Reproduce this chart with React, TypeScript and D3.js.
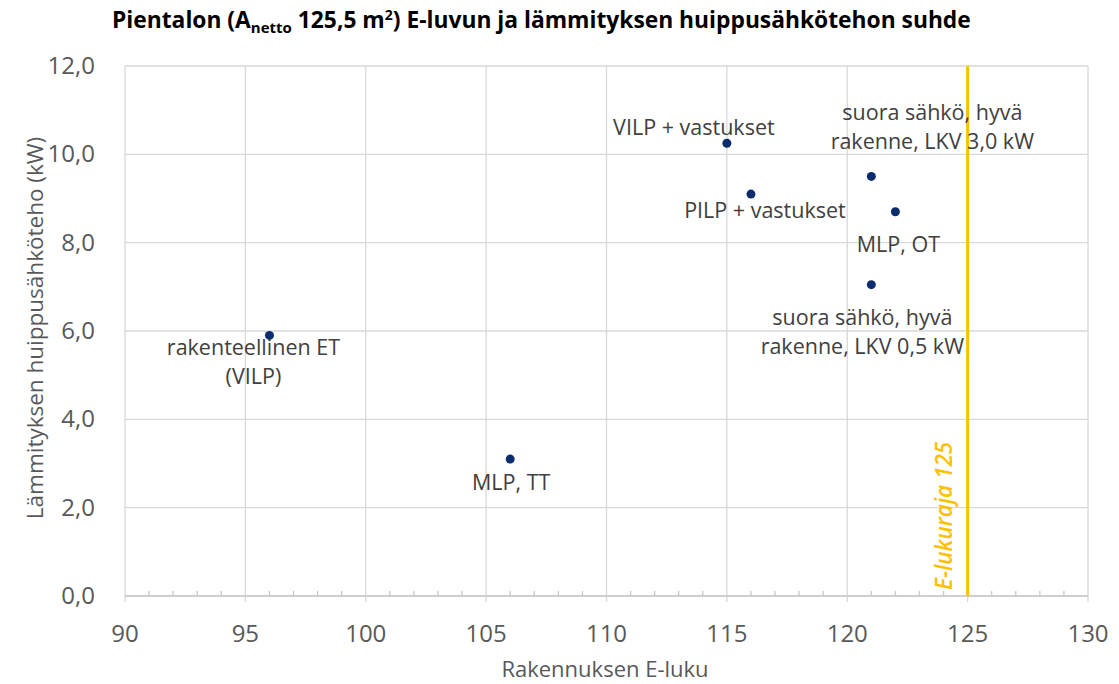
import React from "react";
import * as d3 from "d3";

const eLuku = [96, 106, 115, 116, 121, 122, 121];
const teho = [5.9, 3.1, 10.25, 9.1, 9.5, 8.7, 7.05];
const labels = [
  ["rakenteellinen ET", "(VILP)"],
  ["MLP, TT"],
  ["VILP + vastukset"],
  ["PILP + vastukset"],
  ["suora sähkö, hyvä", "rakenne, LKV 3,0 kW"],
  ["MLP, OT"],
  ["suora sähkö, hyvä", "rakenne, LKV 0,5 kW"],
];
// label offsets relative to point (dx, dy of first baseline)
const labelOffsets: [number, number][] = [
  [-16, 20],
  [1, 31],
  [-33, -8],
  [14, 24],
  [61, -56],
  [3, 40],
  [-9, 40],
];
const xTicks = [90, 95, 100, 105, 110, 115, 120, 125, 130];
const yTicks = [0, 2, 4, 6, 8, 10, 12];
const limitValue = 125;
const limitLabel = "E-lukuraja 125";

const W = 1119;
const H = 684;
const L = 125, R = 1088, T = 66, B = 596;
const FONT = "'Open Sans', Lato, sans-serif";

export default function App() {
  const x = d3.scaleLinear().domain([90, 130]).range([L, R]);
  const y = d3.scaleLinear().domain([0, 12]).range([B, T]);
  const minor = d3.range(90, 131, 1).filter((v) => v % 5 !== 0);
  const fmt = (v: number) => v.toFixed(1).replace(".", ",");
  return (
    <svg width={W} height={H} style={{ position: "absolute", left: 0, top: 0, background: "#fff" }} fontFamily={FONT}>
      <rect x={0} y={0} width={W} height={H} fill="#fff" />
      {/* title */}
      <text x={112} y={28} fontSize={22.8} fontWeight="bold" fill="#000">
        Pientalon (A
        <tspan fontSize={15} dy={5}>netto</tspan>
        <tspan dy={-5}> 125,5 m</tspan>
        <tspan fontSize={14} dy={-8}>2</tspan>
        <tspan dy={8}>) E-luvun ja lämmityksen huippusähkötehon suhde</tspan>
      </text>
      {/* gridlines */}
      {yTicks.map((t) => (
        <line key={"gy" + t} x1={L} x2={R} y1={y(t)} y2={y(t)} stroke="#d9d9d9" strokeWidth={1.3} />
      ))}
      {xTicks.map((t) => (
        <line key={"gx" + t} x1={x(t)} x2={x(t)} y1={T} y2={B + 6} stroke="#d9d9d9" strokeWidth={1.3} />
      ))}
      {minor.map((t) => (
        <line key={"mx" + t} x1={x(t)} x2={x(t)} y1={B - 5} y2={B} stroke="#c8c8c8" strokeWidth={1.3} />
      ))}
      <line x1={L} x2={R} y1={B} y2={B} stroke="#c8c8c8" strokeWidth={1.3} />
      {/* tick labels */}
      {yTicks.map((t) => (
        <text key={"ty" + t} x={95} y={y(t) + 8} fontSize={24} fill="#595959" textAnchor="end">
          {fmt(t)}
        </text>
      ))}
      {xTicks.map((t) => (
        <text key={"tx" + t} x={x(t)} y={642} fontSize={24} fill="#595959" textAnchor="middle">
          {t}
        </text>
      ))}
      {/* axis titles */}
      <text x={605} y={677} fontSize={22} fill="#595959" textAnchor="middle">
        Rakennuksen E-luku
      </text>
      <text transform={`translate(43,328) rotate(-90)`} fontSize={22.5} fill="#595959" textAnchor="middle">
        Lämmityksen huippusähköteho (kW)
      </text>
      {/* limit line */}
      <line x1={x(limitValue)} x2={x(limitValue)} y1={T} y2={B} stroke="#FFC000" strokeWidth={3} />
      <text
        transform={`translate(${x(limitValue) - 16},${B - 6}) rotate(-90)`}
        fontSize={22.5}
        fontStyle="italic"
        fontWeight={600}
        fill="#FFC000"
      >
        {limitLabel}
      </text>
      {/* points */}
      {eLuku.map((v, i) => (
        <circle key={"p" + i} cx={x(v)} cy={y(teho[i])} r={4.5} fill="#0B2D6E" />
      ))}
      {/* labels */}
      {labels.map((lines, i) => (
        <text
          key={"l" + i}
          x={x(eLuku[i]) + labelOffsets[i][0]}
          y={y(teho[i]) + labelOffsets[i][1]}
          fontSize={21.5}
          fill="#404040"
          textAnchor="middle"
        >
          {lines.map((ln, j) => (
            <tspan key={j} x={x(eLuku[i]) + labelOffsets[i][0]} dy={j === 0 ? 0 : 29}>
              {ln}
            </tspan>
          ))}
        </text>
      ))}
    </svg>
  );
}
